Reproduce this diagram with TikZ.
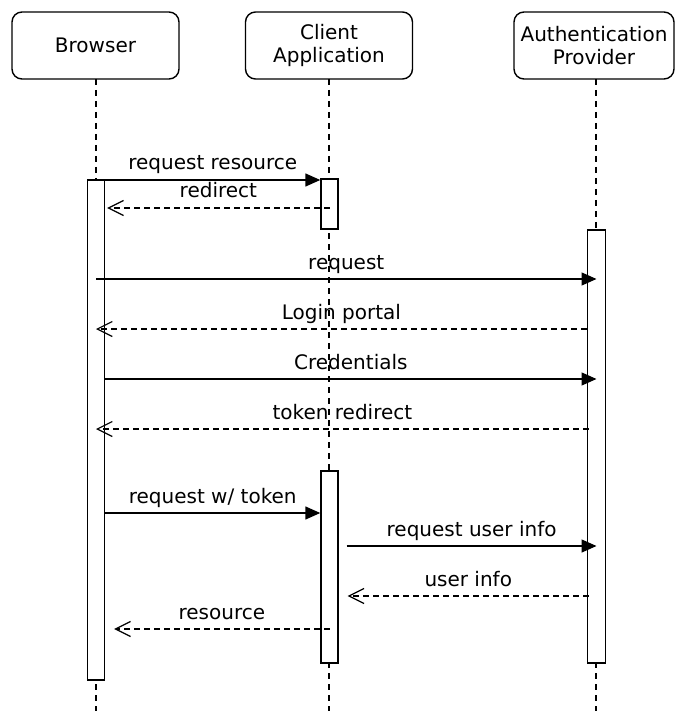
\documentclass[tikz,border=0pt]{standalone}
\usepackage{fontspec}
\setmainfont{DejaVu Sans}
\usetikzlibrary{arrows.meta}
\begin{document}
\begin{tikzpicture}[x=1pt,y=-1pt,
  every node/.style={font=\fontsize{20}{23}\selectfont, inner sep=0pt},
  actor/.style={draw, line width=1.4pt, rounded corners=10pt, minimum width=167pt, minimum height=67pt, align=center, fill=white},
  life/.style={line width=1.4pt, dash pattern=on 6pt off 5pt},
  bar/.style={draw, line width=1.4pt, fill=white, minimum width=17pt, inner sep=0pt},
  call/.style={line width=1.4pt, -{Triangle[length=15pt,width=13pt]}},
  reply/.style={line width=1.4pt, dash pattern=on 6pt off 4pt, -{Straight Barb[length=15pt,width=15pt,line width=1.2pt]}},
  lbl/.style={anchor=base, yshift=10pt}]
\useasboundingbox (0,0) rectangle (675,711);

% participants
\node[actor] (browser) at (95.5,45.5) {Browser};
\node[actor] (client) at (329,45.5) {Client\\Application};
\node[actor, minimum width=160pt] (auth) at (594,45.5) {Authentication\\Provider};

% lifeline ends
\coordinate (bEnd) at (96,711);
\coordinate (cEnd) at (329,711);
\coordinate (aEnd) at (596,711);
\draw[life] (96,79) -- (bEnd);
\draw[life] (329,79) -- (cEnd);
\draw[life] (596,79) -- (aEnd);

% activation bars
\node[bar, minimum height=500pt] (bB) at (96,430) {};
\node[bar, minimum height=50pt] (cB1) at (329.5,204) {};
\node[bar, minimum height=192pt] (cB2) at (329.5,567) {};
\node[bar, minimum height=433pt, minimum width=18pt] (aB) at (596.5,446.5) {};

% message rows
\coordinate (r1) at (0,180);
\coordinate (r2) at (0,208);
\coordinate (r3) at (0,279);
\coordinate (r4) at (0,329);
\coordinate (r5) at (0,379);
\coordinate (r6) at (0,429);
\coordinate (r7) at (0,513);
\coordinate (r8) at (0,546);
\coordinate (r9) at (0,596);
\coordinate (r10) at (0,629);

% messages
\draw[call] (bB.east |- r1) -- node[lbl] (l1) {request resource} (cB1.west |- r1);
\draw[reply] (cB1.center |- r2) -- node[lbl] (l2) {redirect} ([xshift=2pt]bB.east |- r2);
\draw[call] (bB.center |- r3) -- node[lbl] (l3) {request} (aB.center |- r3);
\draw[reply] (aB.west |- r4) -- node[lbl] (l4) {Login portal} (bB.center |- r4);
\draw[call] (bB.east |- r5) -- node[lbl] (l5) {Credentials} (aB.center |- r5);
\draw[reply] ([xshift=2pt]aB.west |- r6) -- node[lbl] (l6) {token redirect} (bB.center |- r6);
\draw[call] (bB.east |- r7) -- node[lbl] (l7) {request w/ token} (cB2.west |- r7);
\draw[call] ([xshift=8pt]cB2.east |- r8) -- node[lbl] (l8) {request user info} (aB.center |- r8);
\draw[reply] ([xshift=2pt]aB.west |- r9) -- node[lbl] (l9) {user info} ([xshift=9pt]cB2.east |- r9);
\draw[reply] (cB2.center |- r10) -- node[lbl] (l10) {resource} ([xshift=9pt]bB.east |- r10);
\end{tikzpicture}
\end{document}
